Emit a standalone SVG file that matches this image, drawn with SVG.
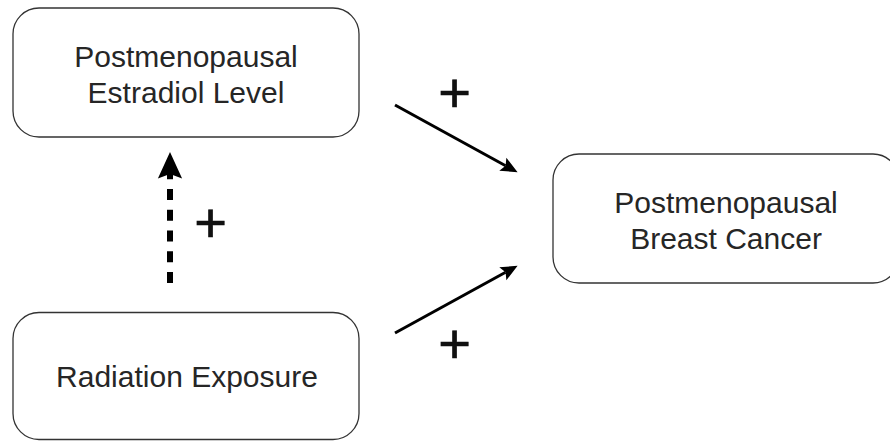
<svg xmlns="http://www.w3.org/2000/svg" width="890" height="441" viewBox="0 0 890 441">
  <style>
    .box { fill: #ffffff; stroke: #333333; stroke-width: 1.3; }
    .lbl { font-family: "Liberation Sans", Arial, sans-serif; font-size: 30px; fill: #262626; text-anchor: middle; }
    .plus { font-family: "Liberation Sans", Arial, sans-serif; font-size: 56px; fill: #111111; stroke: #111111; stroke-width: 0.7; text-anchor: middle; }
    .edge { fill: none; stroke: #000000; }
    .solid { stroke-width: 3; }
    .dashed { stroke-width: 6; stroke-dasharray: 11 9.75; }
  </style>
  <defs>
    <marker id="headSolid" markerUnits="userSpaceOnUse" markerWidth="20" markerHeight="20" viewBox="-1 -8 19 16" refX="3" refY="0" orient="auto" overflow="visible">
      <path d="M0,-7 L16,0 L0,7 L3,0 Z" fill="#000000"/>
    </marker>
    <marker id="headDashed" markerUnits="userSpaceOnUse" markerWidth="30" markerHeight="30" viewBox="-1 -12 26 24" refX="4" refY="0" orient="auto" overflow="visible">
      <path d="M0,-10.5 L23,0 L0,10.5 L4,0 Z" fill="#000000"/>
    </marker>
  </defs>
  <rect width="890" height="441" fill="#ffffff"/>

  <g id="node-estradiol">
    <rect class="box" x="13" y="8" width="346" height="129" rx="26" ry="26"/>
    <text class="lbl" x="186" y="67">Postmenopausal</text>
    <text class="lbl" x="186" y="103">Estradiol Level</text>
  </g>

  <g id="node-radiation">
    <rect class="box" x="13" y="312.5" width="346" height="127" rx="26" ry="26"/>
    <text class="lbl" x="187" y="387">Radiation Exposure</text>
  </g>

  <g id="node-cancer">
    <rect class="box" x="553" y="154" width="346" height="129" rx="26" ry="26"/>
    <text class="lbl" x="726" y="213">Postmenopausal</text>
    <text class="lbl" x="726" y="249">Breast Cancer</text>
  </g>

  <g id="connectors">
    <line class="edge dashed" x1="170" y1="283" x2="170" y2="174" marker-end="url(#headDashed)"/>
    <line class="edge solid" x1="395" y1="105" x2="505.6" y2="165.7" marker-end="url(#headSolid)"/>
    <line class="edge solid" x1="395" y1="333" x2="505.6" y2="272.3" marker-end="url(#headSolid)"/>
    <text class="plus" x="454.5" y="112">+</text>
    <text class="plus" x="210.5" y="242">+</text>
    <text class="plus" x="454.5" y="363">+</text>
  </g>
</svg>
